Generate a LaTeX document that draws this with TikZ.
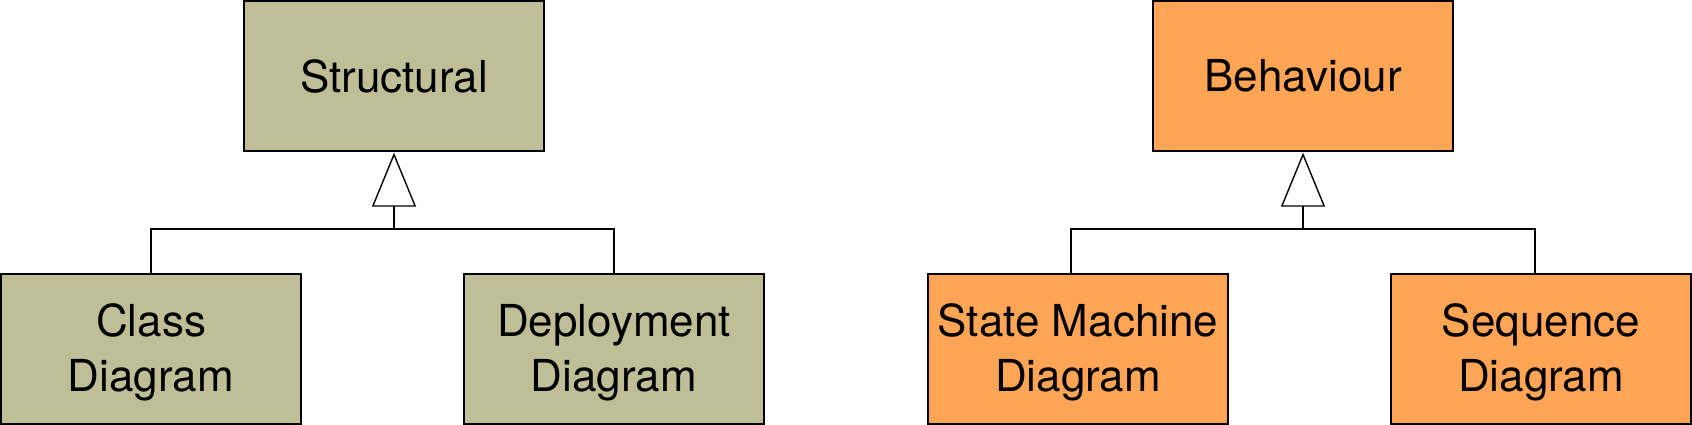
\documentclass[tikz,border=0pt]{standalone}
\usepackage{fontspec}
\setmainfont{TeX Gyre Heros}
\usetikzlibrary{arrows.meta,calc}
\definecolor{tan}{RGB}{192,190,150}
\definecolor{orng}{RGB}{255,165,85}
\newcommand{\lift}{\rule{0pt}{40pt}}
\tikzset{
  box/.style={draw=black, line width=1.4pt, minimum width=300pt, minimum height=150pt,
    inner sep=0pt, align=center, font=\fontsize{44}{55}\selectfont},
  tanbox/.style={box, fill=tan},
  orbox/.style={box, fill=orng},
  conn/.style={draw=black, line width=1.4pt},
  gen/.style={conn, -{Triangle[open, width=44pt, length=54pt, line width=1.4pt]}}
}
\begin{document}
\begin{tikzpicture}[x=1pt,y=-1pt]
\useasboundingbox (0,0) rectangle (1692,425);
% left group
\node[tanbox] (str) at (394,76) {Structural};
\node[tanbox] (cls) at (151,349) {\lift Class\\Diagram};
\node[tanbox] (dep) at (614,349) {\lift Deployment\\Diagram};
\coordinate (sj) at (394,229);
\draw[conn] (cls.north) -- (cls.north |- sj) -- (dep.north |- sj) -- (dep.north);
\draw[gen] (sj) -- ([yshift=-1pt]str.south);
% right group
\node[orbox] (beh) at (1303,76) {Behaviour};
\node[orbox] (sm) at (1078,349) {\lift State Machine\\Diagram};
\node[orbox] (seq) at (1541,349) {\lift Sequence\\Diagram};
\coordinate (bj) at (1303,229);
\draw[conn] ([xshift=-7pt]sm.north) -- ([xshift=-7pt]sm.north |- bj) -- ([xshift=-6pt]seq.north |- bj) -- ([xshift=-6pt]seq.north);
\draw[gen] (bj) -- ([yshift=-1pt]beh.south);
\end{tikzpicture}
\end{document}
